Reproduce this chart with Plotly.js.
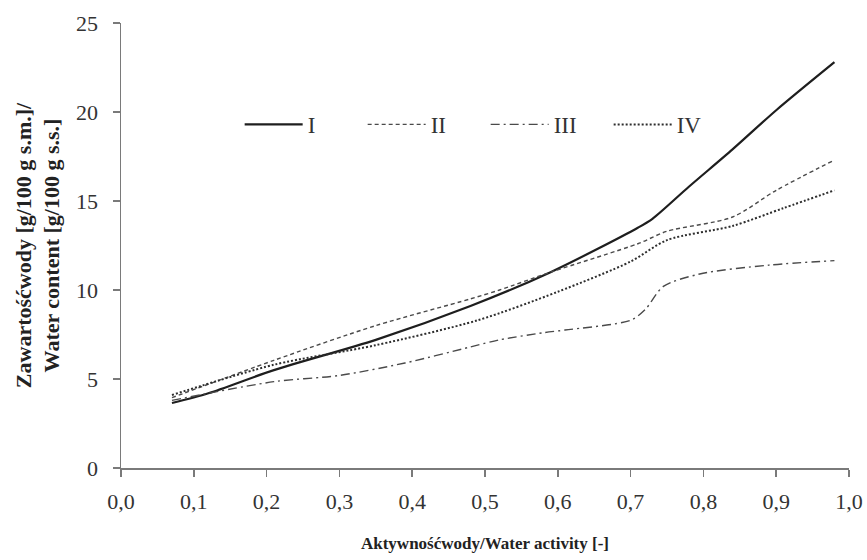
<!DOCTYPE html>
<html>
<head>
<meta charset="utf-8">
<script src="https://cdn.plot.ly/plotly-3.0.1.min.js"></script>
<style>html,body{margin:0;padding:0;background:#fff;}#chart{width:867px;height:560px;}</style>
</head>
<body>
<div id="chart"></div>
<script>
// Series I (solid)
const xI = [0.07, 0.12, 0.21, 0.35, 0.48, 0.59, 0.71, 0.73, 0.78, 0.84, 0.90, 0.98];
const yI = [3.65, 4.2, 5.5, 7.2, 9.1, 11.0, 13.5, 14.0, 15.8, 17.9, 20.1, 22.8];
// Series II (dashed)
const xII = [0.07, 0.21, 0.35, 0.48, 0.52, 0.59, 0.71, 0.75, 0.84, 0.90, 0.98];
const yII = [3.95, 6.05, 8.0, 9.5, 10.0, 11.0, 12.6, 13.3, 14.1, 15.6, 17.3];
// Series III (dash-dot)
const xIII = [0.07, 0.21, 0.30, 0.39, 0.48, 0.52, 0.58, 0.61, 0.70, 0.72, 0.745, 0.795, 0.89, 0.98];
const yIII = [3.8, 4.85, 5.2, 5.9, 6.8, 7.2, 7.6, 7.75, 8.3, 8.9, 10.2, 10.9, 11.4, 11.65];
// Series IV (dotted)
const xIV = [0.07, 0.21, 0.35, 0.49, 0.60, 0.70, 0.75, 0.84, 0.91, 0.98];
const yIV = [4.1, 5.8, 6.9, 8.3, 9.9, 11.6, 12.8, 13.6, 14.6, 15.6];

const seriesNames = ['I', 'II', 'III', 'IV'];
const xTickVals = [0, 0.1, 0.2, 0.3, 0.4, 0.5, 0.6, 0.7, 0.8, 0.9, 1.0];
const yTickVals = [0, 5, 10, 15, 20, 25];

const traces = [
  {x: xI, y: yI, name: seriesNames[0], mode: 'lines',
   line: {color: '#1e1e1e', width: 2.2, shape: 'spline', smoothing: 0.8}},
  {x: xII, y: yII, name: seriesNames[1], mode: 'lines',
   line: {color: '#4a4a4a', width: 1.4, dash: '4px,3px', shape: 'spline', smoothing: 0.8}},
  {x: xIII, y: yIII, name: seriesNames[2], mode: 'lines',
   line: {color: '#4a4a4a', width: 1.4, dash: '9px,4px,2px,4px', shape: 'spline', smoothing: 0.8}},
  {x: xIV, y: yIV, name: seriesNames[3], mode: 'lines',
   line: {color: '#2e2e2e', width: 2, dash: '2px,2px', shape: 'spline', smoothing: 0.8}}
];

const font = 'Liberation Serif, Times New Roman, serif';
const layout = {
  width: 867, height: 560,
  margin: {l: 121, r: 18, t: 23, b: 92},
  paper_bgcolor: '#fff', plot_bgcolor: '#fff',
  separators: ',.',
  font: {family: font, size: 17, color: '#333'},
  showlegend: true,
  legend: {
    orientation: 'h', x: 0.163, y: 0.772, xanchor: 'left', yanchor: 'middle',
    font: {family: font, size: 23, color: '#333'},
    itemwidth: 58, entrywidth: 50, entrywidthmode: 'pixels',
    bgcolor: 'rgba(0,0,0,0)', itemclick: false
  },
  xaxis: {
    range: [0, 1.0], tickvals: xTickVals, tickformat: '.1f',
    showgrid: false, zeroline: false, showline: true, linecolor: '#7a7a7a', linewidth: 1.5,
    ticks: 'outside', ticklen: 7, tickcolor: '#7a7a7a', tickwidth: 1.5,
    ticklabelstandoff: 6,
    tickfont: {family: font, size: 22, color: '#333'},
    title: {text: '<b>Aktywnośćwody/Water activity [-]</b>', font: {family: font, size: 17, color: '#222'}, standoff: 24}
  },
  yaxis: {
    range: [0, 25], tickvals: yTickVals,
    showgrid: false, zeroline: false, showline: true, linecolor: '#7a7a7a', linewidth: 1.5,
    ticks: 'outside', ticklen: 7, tickcolor: '#7a7a7a', tickwidth: 1.5,
    ticklabelstandoff: 10,
    tickfont: {family: font, size: 22, color: '#333'},
    title: {text: '<b>Zawartośćwody [g/100 g s.m.]/<br>Water content [g/100 g s.s.]</b>', font: {family: font, size: 22, color: '#222'}, standoff: 10}
  }
};

Plotly.newPlot('chart', traces, layout, {displayModeBar: false, staticPlot: true});
</script>
</body>
</html>
